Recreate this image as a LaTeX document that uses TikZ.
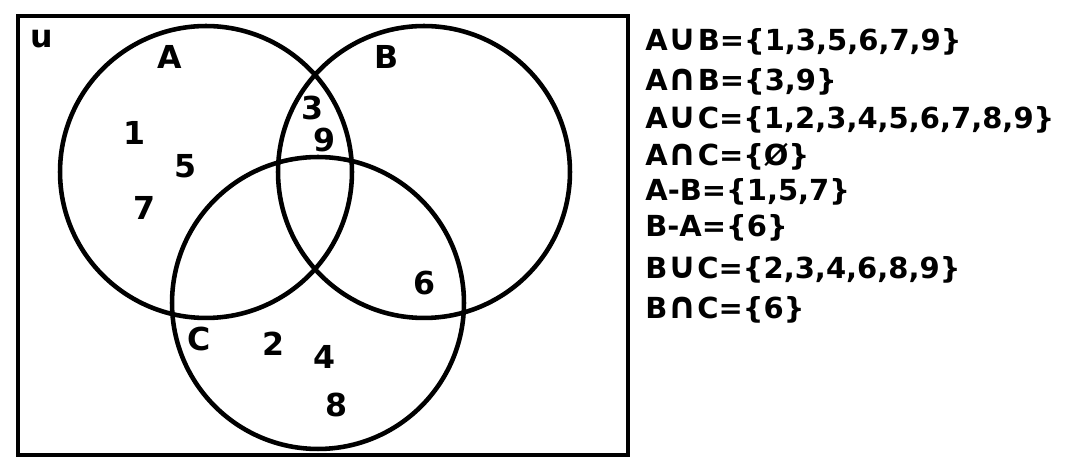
\documentclass[tikz,border=0pt]{standalone}
\usepackage{fontspec}
\newfontfamily\handfont{DejaVu Sans}
\usepackage{tikz}
\usetikzlibrary{positioning}
\definecolor{Ink}{HTML}{000000}
\newcommand{\bigop}[1]{{\fontsize{21}{20}\selectfont #1}}
\tikzset{
  setcirc/.style={circle,draw=Ink,line width=2.6pt,minimum size=5.84cm,inner sep=0pt},
  univ/.style={draw=Ink,line width=2.3pt},
  elem/.style={font=\handfont\bfseries\fontsize{18}{20}\selectfont,inner sep=0pt},
  setlab/.style={elem},
  res/.style={font=\handfont\bfseries\fontsize{16.5}{20}\selectfont,inner sep=0pt,anchor=west}
}
\begin{document}
\begin{tikzpicture}[x=0.02cm,y=-0.02cm]
  \useasboundingbox (0,0) rectangle (1090,472);
  % universe and the three sets
  \draw[univ] (18,16) rectangle (628,455);
  \node[setcirc] (cA) at (206,172) {};
  \node[setcirc] (cB) at (424,172) {};
  \node[setcirc] (cC) at (318,303) {};
  \node[setlab] (lU) at (42,39) {u};
  \node[setlab] (lA) at (170,57) {A};
  \node[setlab] (lB) at (387,57) {B};
  \node[setlab] (lC) at (199,339) {C};
  % elements
  \node[elem] (e1) at (135,133) {1};
  \node[elem] (e5) at (186,166) {5};
  \node[elem] (e7) at (145,208) {7};
  \node[elem] (e3) at (313,108) {3};
  \node[elem] (e9) at (325,140) {9};
  \node[elem] (e6) at (424,283) {6};
  \node[elem] (e2) at (274,344) {2};
  \node[elem] (e4) at (325,357) {4};
  \node[elem] (e8) at (336,405) {8};
  % results
  \node[res] (r1) at (645,42) {A\bigop{∪}B=\{1,3,5,6,7,9\}};
  \node[res] (r2) at (645,82) {A\bigop{∩}B=\{3,9\}};
  \node[res] (r3) at (645,120) {A\bigop{∪}C=\{1,2,3,4,5,6,7,8,9\}};
  \node[res] (r4) at (645,157) {A\bigop{∩}C=\{Ø\}};
  \node[res] (r5) at (645,192) {A-B=\{1,5,7\}};
  \node[res] (r6) at (645,228) {B-A=\{6\}};
  \node[res] (r7) at (645,270) {B\bigop{∪}C=\{2,3,4,6,8,9\}};
  \node[res] (r8) at (645,310) {B\bigop{∩}C=\{6\}};
\end{tikzpicture}
\end{document}
